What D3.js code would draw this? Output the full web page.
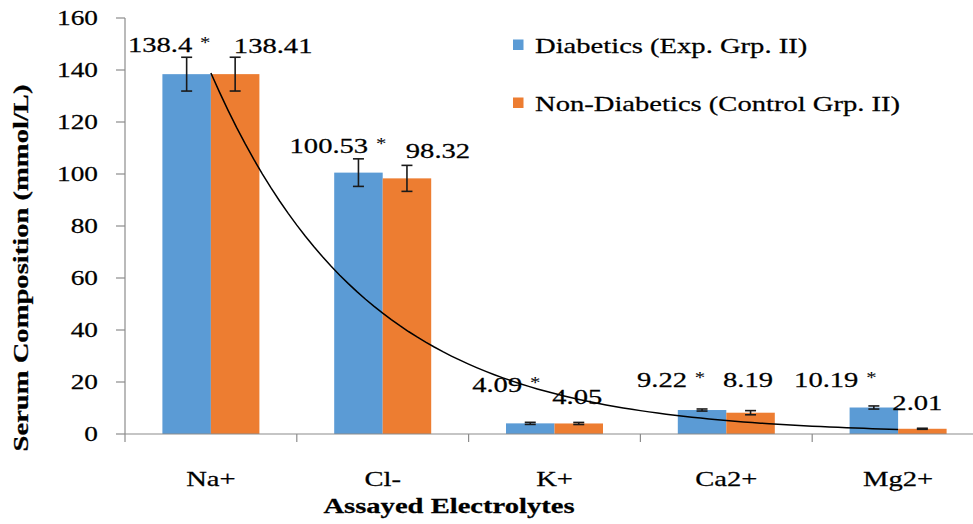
<!DOCTYPE html>
<html>
<head>
<meta charset="utf-8">
<script src="https://cdn.jsdelivr.net/npm/d3@7"></script>
<style>
  html, body { margin: 0; padding: 0; background: #fff; }
  svg { display: block; }
  text { font-family: "Liberation Serif", "Times New Roman", serif; fill: #000; stroke: #000; stroke-width: 0.25px; }
</style>
</head>
<body>
<svg id="chart" width="973" height="524"></svg>
<script>
// ---------------- data ----------------
const categories = ["Na+", "Cl-", "K+", "Ca2+", "Mg2+"];
const seriesNames = ["Diabetics (Exp. Grp. II)", "Non-Diabetics (Control Grp. II)"];
const diabetics = [138.4, 100.53, 4.09, 9.22, 10.19];
const nonDiabetics = [138.41, 98.32, 4.05, 8.19, 2.01];
const diabeticsErr = [6.5, 5.3, 0.4, 0.4, 0.6];
const nonDiabeticsErr = [6.5, 5.0, 0.4, 0.8, 0.2];
const diabeticsSignificant = [true, true, true, true, true];
const yTicks = [0, 20, 40, 60, 80, 100, 120, 140, 160];

// ---------------- layout / style (not data) ----------------
const colors = ["#5B9BD5", "#ED7D31"];
const axisColor = "#8C8C8C";
const SX = 1.3; // horizontal glyph stretch seen in the reference
const plot = { left: 125, right: 984, top: 18, bottom: 434 };
const groupWidth = 97;
// manual label nudges relative to (bar centre, error-bar top)
const labelNudge = [
  [[-17.5, -5], [-20.5, -6], [-24, -30], [-31, -22], [-38.5, -19]],
  [[38, -4], [31, -7], [-1.5, -18], [-2.5, -24], [-5, -18]]
];

const svg = d3.select("#chart");

const x = d3.scaleBand().domain(categories).range([plot.left, plot.right]).padding(0);
const y = d3.scaleLinear().domain([0, 160]).range([plot.bottom, plot.top]);

function stext(parent, tx, ty, str, opts = {}) {
  const g = parent.append("g")
    .attr("transform", `translate(${tx},${ty})` + (opts.rotate ? ` rotate(${opts.rotate})` : ""));
  const t = g.append("text")
    .attr("transform", `scale(${SX},1)`)
    .attr("text-anchor", opts.anchor || "middle")
    .attr("dy", opts.dy || null)
    .style("font-size", (opts.size || 22) + "px")
    .style("font-weight", opts.bold ? "bold" : "normal");
  if (opts.star) {
    t.append("tspan").text(str);
    t.append("tspan").style("font-size", "16px").attr("dx", 2).attr("dy", -4).style("stroke-width", "0px").text(" *");
  } else {
    t.text(str);
  }
  return t;
}

const series = [
  { name: seriesNames[0], values: diabetics, err: diabeticsErr, sig: diabeticsSignificant },
  { name: seriesNames[1], values: nonDiabetics, err: nonDiabeticsErr, sig: categories.map(() => false) }
];

const x1 = d3.scaleBand().domain(d3.range(series.length)).range([0, groupWidth]);
const groupStart = c => x(c) + (x.bandwidth() - groupWidth) / 2;

// ---------------- bars ----------------
series.forEach((s, si) => {
  svg.append("g").selectAll("rect")
    .data(categories)
    .join("rect")
    .attr("x", c => groupStart(c) + x1(si))
    .attr("width", x1.bandwidth())
    .attr("y", (c, i) => y(s.values[i]))
    .attr("height", (c, i) => y(0) - y(s.values[i]))
    .attr("fill", colors[si]);
});

// ---------------- error bars ----------------
series.forEach((s, si) => {
  const g = svg.append("g").attr("stroke", "#1a1a1a").attr("stroke-width", 1.6);
  categories.forEach((c, i) => {
    const cx = groupStart(c) + x1(si) + x1.bandwidth() / 2;
    const hi = y(s.values[i] + s.err[i]);
    const lo = y(s.values[i] - s.err[i]);
    g.append("line").attr("x1", cx).attr("x2", cx).attr("y1", hi).attr("y2", lo);
    g.append("line").attr("x1", cx - 5.5).attr("x2", cx + 5.5).attr("y1", hi).attr("y2", hi);
    g.append("line").attr("x1", cx - 5.5).attr("x2", cx + 5.5).attr("y1", lo).attr("y2", lo);
  });
});

// ---------------- axes ----------------
const axes = svg.append("g").attr("stroke", axisColor).attr("stroke-width", 1.2);
axes.append("line").attr("x1", plot.left).attr("x2", plot.left).attr("y1", y(160)).attr("y2", y(0));
axes.append("line").attr("x1", plot.left).attr("x2", plot.right).attr("y1", y(0)).attr("y2", y(0));
yTicks.forEach(t => {
  axes.append("line").attr("x1", plot.left - 9).attr("x2", plot.left).attr("y1", y(t)).attr("y2", y(t));
});
categories.concat(["_end"]).forEach((c, i) => {
  const px = i < categories.length ? x(c) : plot.right;
  axes.append("line").attr("x1", px).attr("x2", px).attr("y1", y(0)).attr("y2", y(0) + 8);
});

yTicks.forEach(t => stext(svg, 98, y(t), String(t), { anchor: "end", size: 21, dy: "0.34em" }));
categories.forEach(c => stext(svg, x(c) + x.bandwidth() / 2, 486, c));

// ---------------- exponential trendline (fit of Non-Diabetics series) ----------------
const xs = nonDiabetics.map((v, i) => i + 1);
const lns = nonDiabetics.map(v => Math.log(v));
const mx = d3.mean(xs), ml = d3.mean(lns);
const b = d3.sum(xs.map((xv, i) => (xv - mx) * (lns[i] - ml))) / d3.sum(xs.map(xv => (xv - mx) ** 2));
const a = Math.exp(ml - b * mx);
const xIdx = d3.scaleLinear().domain([1, categories.length])
  .range([x(categories[0]) + x.bandwidth() / 2, x(categories[categories.length - 1]) + x.bandwidth() / 2]);
const trendPts = d3.range(1, categories.length + 0.0001, 0.05).map(t => [t, a * Math.exp(b * t)]);
svg.append("path")
  .datum(trendPts)
  .attr("fill", "none")
  .attr("stroke", "#000")
  .attr("stroke-width", 1.5)
  .attr("d", d3.line().x(d => xIdx(d[0])).y(d => y(d[1])));

// ---------------- data labels ----------------
series.forEach((s, si) => {
  categories.forEach((c, i) => {
    const cx = groupStart(c) + x1(si) + x1.bandwidth() / 2;
    const top = y(s.values[i] + s.err[i]);
    const [dx, dy] = labelNudge[si][i];
    stext(svg, cx + dx, top + dy, String(s.values[i]), { star: s.sig[i] });
  });
});

// ---------------- legend ----------------
const legendRows = [45, 103];
series.forEach((s, si) => {
  svg.append("rect").attr("x", 513).attr("y", legendRows[si] - 5.5).attr("width", 10.5).attr("height", 10.5)
    .attr("fill", colors[si]);
  stext(svg, 535, legendRows[si] + 8, s.name, { anchor: "start" });
});

// ---------------- axis titles ----------------
stext(svg, 449, 513, "Assayed Electrolytes", { bold: true });
stext(svg, 28, 268, "Serum Composition (mmol/L)", { bold: true, rotate: -90 });
</script>
</body>
</html>
